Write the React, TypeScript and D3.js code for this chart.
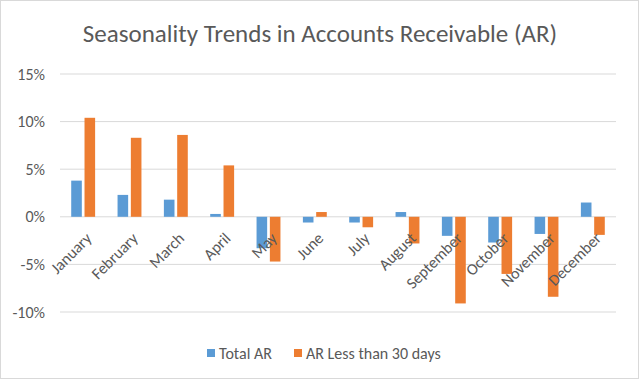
import React from "react";
import * as d3 from "d3";

const months = ["January","February","March","April","May","June","July","August","September","October","November","December"];
const totalAR = [3.8, 2.3, 1.8, 0.3, -3.3, -0.6, -0.6, 0.5, -2.0, -2.7, -1.8, 1.5];
const arLess30 = [10.4, 8.3, 8.6, 5.4, -4.7, 0.5, -1.1, -2.8, -9.1, -6.0, -8.4, -1.9];
const yTicks = [15, 10, 5, 0, -5, -10];
const seriesNames = ["Total AR", "AR Less than 30 days"];
const colors = ["#5B9BD5", "#ED7D31"];

const W = 640, H = 380;
const FONT = "Calibri, Carlito, 'Open Sans', sans-serif";

export default function App() {
  const x = d3.scaleBand<string>().domain(months).range([60, 616]).paddingInner(0).paddingOuter(0);
  const y = d3.scaleLinear().domain([-10, 15]).range([312, 74]);
  const bw = 10.6;
  const gap = 2.7;
  const series = [totalAR, arLess30];
  return (
    <svg width={W} height={H} style={{ position: "absolute", left: 0, top: 0, background: "#fff" }}>
      <rect x={0.5} y={0.5} width={638} height={378} fill="#fff" stroke="#D9D9D9" />
      <text x={320} y={42} textAnchor="middle" fontFamily={FONT} fontSize={25} fill="#595959" fontWeight={300}>
        Seasonality Trends in Accounts Receivable (AR)
      </text>
      {yTicks.map((t) => (
        <g key={t}>
          <line x1={60} x2={616} y1={y(t)} y2={y(t)} stroke="#D9D9D9" strokeWidth={1} />
          <text x={45} y={y(t) + 5.5} textAnchor="end" fontFamily={FONT} fontSize={16} fill="#595959">
            {t}%
          </text>
        </g>
      ))}
      {series.map((vals, si) =>
        vals.map((v, i) => {
          const c = x(months[i])! + x.bandwidth() / 2;
          const x0 = si === 0 ? c - gap / 2 - bw : c + gap / 2;
          const y0 = y(Math.max(0, v));
          const h = Math.abs(y(v) - y(0));
          return <rect key={si + "-" + i} x={x0} y={y0} width={bw} height={h} fill={colors[si]} />;
        })
      )}
      {months.map((m) => {
        const c = x(m)! + x.bandwidth() / 2;
        return (
          <text key={m} transform={`translate(${c + 1},${y(0) + 14}) rotate(-45)`} textAnchor="end" dominantBaseline="hanging"
            fontFamily={FONT} fontSize={16} fill="#595959">
            {m}
          </text>
        );
      })}
      <g>
        <rect x={207} y={349} width={8} height={8} fill={colors[0]} />
        <text x={219} y={359} fontFamily={FONT} fontSize={16} fill="#595959">{seriesNames[0]}</text>
        <rect x={294} y={349} width={8} height={8} fill={colors[1]} />
        <text x={306} y={359} fontFamily={FONT} fontSize={16} fill="#595959">{seriesNames[1]}</text>
      </g>
    </svg>
  );
}
